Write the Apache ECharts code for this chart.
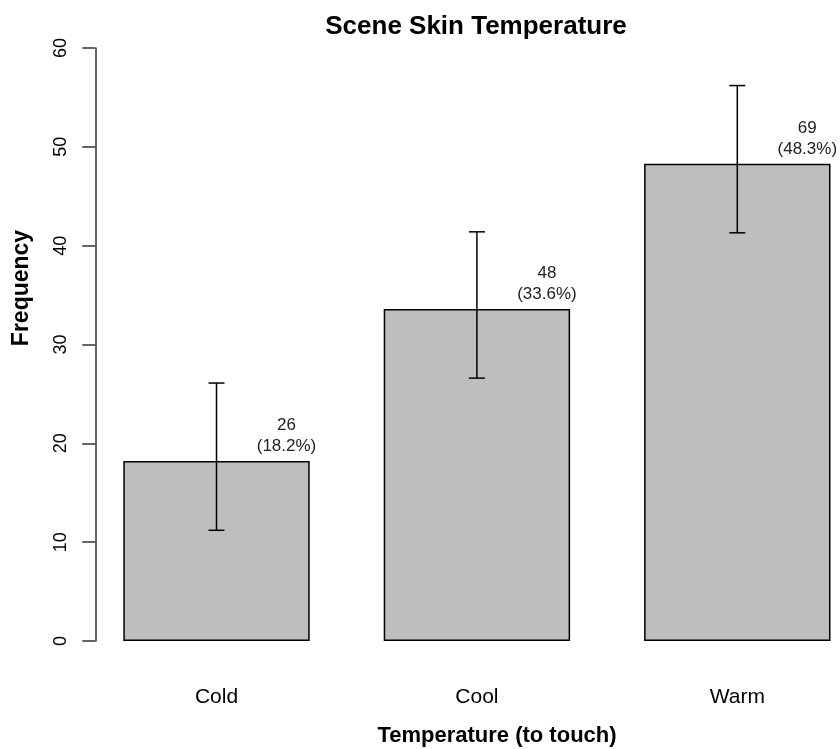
<!DOCTYPE html>
<html>
<head>
<meta charset="utf-8">
<script src="https://cdn.jsdelivr.net/npm/echarts@6/dist/echarts.min.js"></script>
<style>
  html, body { margin: 0; padding: 0; background: #fff; }
  #chart { width: 840px; height: 749px; }
</style>
</head>
<body>
<div id="chart"></div>
<script>
// data
var categories = ["Cold", "Cool", "Warm"];
var counts = [26, 48, 69];
var percents = [18.2, 33.6, 48.3];
var errLow = [11.2, 26.6, 41.3];
var errHigh = [26.1, 41.4, 56.2];
var yTicks = { min: 0, max: 60, interval: 10 };

var FONT = "Liberation Sans, Arial, sans-serif";

var chart = echarts.init(document.getElementById("chart"), null, { renderer: "canvas" });

var errData = categories.map(function (c, i) {
  return [i, errLow[i], errHigh[i]];
});

var option = {
  animation: false,
  backgroundColor: "#fff",
  textStyle: { fontFamily: FONT },
  grid: {
    left: 86.3,
    top: 48,
    width: 781.2,
    height: 593,
    containLabel: false,
    outerBoundsMode: "none",
  },
  xAxis: {
    type: "category",
    data: categories,
    axisLine: { show: false },
    axisTick: { show: false },
    axisLabel: {
      margin: 46,
      fontSize: 21,
      color: "#000",
      fontFamily: FONT,
    },
  },
  yAxis: {
    type: "value",
    min: yTicks.min,
    max: yTicks.max,
    interval: yTicks.interval,
    offset: -9,
    splitLine: { show: false },
    axisLine: { show: true, lineStyle: { color: "#333", width: 1.5 } },
    axisTick: { show: true, length: 13, lineStyle: { color: "#333", width: 1.5 } },
    axisLabel: {
      rotate: 90,
      margin: 25,
      fontSize: 18,
      color: "#000",
      fontFamily: FONT,
    },
  },
  series: [
    {
      name: "percent",
      type: "bar",
      data: percents,
      barWidth: 186.4,
      itemStyle: {
        color: "#bebebe",
        borderColor: "#000",
        borderWidth: 1.5,
      },
      label: {
        show: true,
        position: "top",
        distance: 4,
        offset: [70, 0],
        fontSize: 17,
        lineHeight: 21,
        color: "#222",
        fontFamily: FONT,
        formatter: function (p) {
          return counts[p.dataIndex] + "\n(" + percents[p.dataIndex].toFixed(1) + "%)";
        },
      },
    },
    {
      name: "error",
      type: "custom",
      data: errData,
      z: 10,
      renderItem: function (params, api) {
        var lo = api.coord([api.value(0), api.value(1)]);
        var hi = api.coord([api.value(0), api.value(2)]);
        var half = 8;
        var style = { stroke: "#000", lineWidth: 1.5 };
        return {
          type: "group",
          children: [
            { type: "line", shape: { x1: hi[0], y1: hi[1], x2: lo[0], y2: lo[1] }, style: style },
            { type: "line", shape: { x1: hi[0] - half, y1: hi[1], x2: hi[0] + half, y2: hi[1] }, style: style },
            { type: "line", shape: { x1: lo[0] - half, y1: lo[1], x2: lo[0] + half, y2: lo[1] }, style: style },
          ],
        };
      },
    },
  ],
  graphic: [
    {
      type: "text",
      x: 476,
      y: 27,
      style: {
        text: "Scene Skin Temperature",
        font: "bold 26px " + FONT,
        fill: "#000",
        align: "center",
        verticalAlign: "middle",
      },
    },
    {
      type: "text",
      x: 497,
      y: 736,
      style: {
        text: "Temperature (to touch)",
        font: "bold 22px " + FONT,
        fill: "#000",
        align: "center",
        verticalAlign: "middle",
      },
    },
    {
      type: "text",
      x: 22,
      y: 288,
      rotation: Math.PI / 2,
      style: {
        text: "Frequency",
        font: "bold 23px " + FONT,
        fill: "#000",
        align: "center",
        verticalAlign: "middle",
      },
    },
  ],
};

chart.setOption(option);
</script>
</body>
</html>
